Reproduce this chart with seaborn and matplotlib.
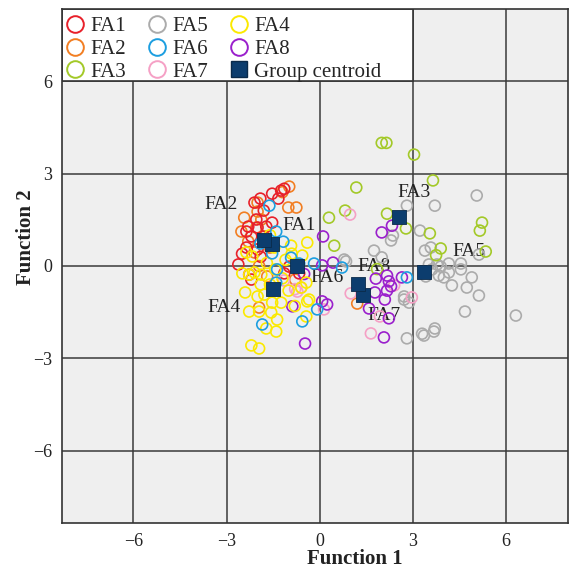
import matplotlib
matplotlib.use("Agg")
import matplotlib.pyplot as plt
import pandas as pd
import seaborn as sns
from matplotlib.lines import Line2D
from matplotlib.patches import Rectangle

# Discriminant scores per facies group (Function 1, Function 2)
fa1_x = [-1.14, -1.24, -1.53, -1.33, -1.91, -2.10, -1.53, -2.30, -1.72, -2.00, -2.20, -2.36,
         -2.62, -2.20, -1.14, -0.66, -0.98, -2.04, -2.36, -2.00, -2.27, -1.80, -1.90, -2.50]
fa1_y = [2.51, 2.45, 2.35, 2.19, 2.19, 2.06, 1.41, 1.28, 1.28, 1.25, 0.96, 0.60,
         0.05, -0.44, -0.24, -0.24, -0.02, 1.51, 1.12, 0.54, -0.28, 1.80, 0.30, 0.40]

fa2_x = [-0.98, -0.75, -1.01, -2.00, -1.88, -2.43, -2.52, -2.04, -1.78, -2.10, -1.95, -1.69,
         -0.79, -1.95, 1.21, -2.00, -2.30, -1.60, -1.20]
fa2_y = [2.58, 1.90, 1.90, 1.77, 1.51, 1.57, 1.12, 1.25, 0.96, 0.44, 0.00, -0.34,
         -0.44, -1.35, -1.22, 2.06, 0.80, 0.60, 2.40]

fa3_x = [2.00, 2.15, 3.04, 3.65, 1.18, 2.17, 2.78, 3.55, 0.82, 0.30, 0.47, 3.90,
         5.23, 5.16, 5.35, 1.85, 3.75]
fa3_y = [4.00, 4.00, 3.62, 2.78, 2.55, 1.70, 1.22, 1.06, 1.80, 1.57, 0.66, 0.57,
         1.41, 1.15, 0.47, -0.10, 0.35]

fa4_x = [-0.40, -0.56, -0.92, -2.36, -2.17, -1.46, -2.49, -2.27, -1.88, -1.43, -0.43, -2.40,
         -1.78, -1.53, -1.24, -2.27, -1.95, -1.56, -1.37, -0.40, -1.40, -1.72, -2.20, -1.95,
         -0.34, -0.43, -0.59, -2.10, -2.00, -1.10, -1.70, -1.00, -1.60, -0.80, -1.90, -1.20,
         -0.90, -1.60]
fa4_y = [0.76, 0.34, 0.66, 0.44, 0.31, 0.60, -0.24, -0.28, -0.28, -0.11, -0.54, -0.86,
         -0.93, -1.19, -1.19, -1.48, -1.48, -1.51, -1.74, -1.15, -2.13, -2.03, -2.58, -2.68,
         -1.09, -1.64, -0.70, -0.21, -0.99, 0.20, 0.10, -0.80, -0.60, -1.30, -0.60, -0.40,
         0.40, 1.00]

fa5_x = [5.06, 3.71, 2.81, 3.23, 2.36, 2.30, 1.75, 3.39, 3.58, 0.85, 2.00, 0.79,
         3.52, 3.78, 4.16, 4.55, 3.62, 3.84, 4.16, 4.55, 4.00, 4.26, 3.42, 4.90,
         4.74, 5.13, 4.68, 6.32, 5.13, 3.71, 3.90, 3.68, 3.36, 2.81, 2.72, 2.88,
         2.72, 3.30]
fa5_y = [2.29, 1.96, 1.96, 1.15, 0.99, 0.83, 0.50, 0.50, 0.60, 0.15, 0.28, 0.21,
         0.05, 0.05, 0.08, 0.08, -0.11, -0.31, -0.21, -0.11, -0.37, -0.63, -0.34, -0.37,
         -0.70, -0.96, -1.48, -1.61, 0.37, -2.03, -0.02, -2.13, -2.26, -2.35, -1.09, -1.19,
         -0.99, -2.20]

fa6_x = [-1.62, -1.40, -1.91, -1.17, -1.53, -1.37, -0.92, -0.66, -0.18, 0.72, -1.40, -0.08,
         -0.56, -1.85, 2.81]
fa6_y = [1.96, 1.12, 0.73, 0.79, 0.41, -0.11, 0.27, 0.08, 0.08, -0.05, -0.54, -1.41,
         -1.80, -1.90, -0.37]

fa7_x = [0.98, 1.00, 2.40, 2.97, 1.94, 1.65, 0.14, -0.72, -0.60, -1.15, -0.79]
fa7_y = [1.67, -0.89, -0.63, -1.02, -1.64, -2.19, -1.41, -0.83, -0.70, -0.47, -0.75]

fa8_x = [2.33, 2.00, 0.11, 0.43, 0.08, 1.81, 2.17, 2.23, 2.65, 1.78, 2.17, 2.10,
         1.59, 2.23, 2.07, -0.47, 0.08, 0.24, 2.30, -0.50, -0.88]
fa8_y = [1.31, 1.09, 0.96, 0.11, 0.02, -0.41, -0.31, -0.50, -0.37, -0.86, -0.80, -1.09,
         -1.38, -1.70, -2.32, -2.52, -1.15, -1.25, -0.66, -0.26, -1.31]

# Group centroids
centroid_names = ["FA1", "FA2", "FA3", "FA4", "FA5", "FA6", "FA7", "FA8"]
centroid_x = [-1.53, -1.78, 2.56, -1.50, 3.36, -0.74, 1.40, 1.24]
centroid_y = [0.70, 0.83, 1.60, -0.76, -0.20, 0.00, -0.93, -0.60]

groups = {
    "FA5": (fa5_x, fa5_y), "FA3": (fa3_x, fa3_y), "FA2": (fa2_x, fa2_y),
    "FA1": (fa1_x, fa1_y), "FA7": (fa7_x, fa7_y), "FA8": (fa8_x, fa8_y),
    "FA4": (fa4_x, fa4_y), "FA6": (fa6_x, fa6_y),
}
palette = {
    "FA1": "#e8202a", "FA2": "#f27e22", "FA3": "#a3c928", "FA4": "#fbe900",
    "FA5": "#ababab", "FA6": "#1c9ee0", "FA7": "#f5a0c5", "FA8": "#9a1fcc",
}
centroid_color = "#0c3d6e"

# label placement relative to each centroid (data units)
label_offsets = {
    "FA1": (0.87, 0.61), "FA2": (-1.38, 1.17), "FA3": (0.48, 0.79), "FA4": (-1.57, -0.59),
    "FA5": (1.45, 0.67), "FA6": (0.99, -0.37), "FA7": (0.67, -0.68), "FA8": (0.51, 0.58),
}

frames = [pd.DataFrame({"f1": xs, "f2": ys, "group": g}) for g, (xs, ys) in groups.items()]
df = pd.concat(frames, ignore_index=True)

sns.set_theme(style="white")
plt.rcParams["font.family"] = ["Liberation Serif", "DejaVu Serif"]
plt.rcParams["axes.unicode_minus"] = True

fig = plt.figure(figsize=(5.69, 5.68), dpi=100)
ax = fig.add_axes([62 / 569, 1 - 523 / 568, 506 / 569, 514 / 568])
ax.set_facecolor("#efefef")

xmin, xmax = -8.3, 8.0
ymin, ymax = -8.35, 8.35

sns.scatterplot(data=df, x="f1", y="f2", hue="group", palette=palette, s=62,
                marker="o", linewidth=1.2, legend=False, ax=ax, zorder=3)
pts = ax.collections[-1]
pts.set_edgecolors(pts.get_facecolors())
pts.set_facecolors("none")

sns.scatterplot(x=centroid_x, y=centroid_y, marker="s", s=110, color=centroid_color,
                edgecolor="#0a2a4a", linewidth=0.6, legend=False, ax=ax, zorder=4)

for name, cx, cy in zip(centroid_names, centroid_x, centroid_y):
    dx, dy = label_offsets[name]
    ax.text(cx + dx, cy + dy, name, fontsize=14, ha="center", va="center",
            color="#222222", zorder=2.5)

ax.set_xlim(xmin, xmax)
ax.set_ylim(ymin, ymax)
ax.set_xticks([-6, -3, 0, 3, 6])
ax.set_yticks([-6, -3, 0, 3, 6])
ax.set_axisbelow(True)
ax.grid(True, color="#3a3a3a", linewidth=1.1)
ax.tick_params(length=0, labelsize=13, pad=7, colors="#222222")
for sp in ax.spines.values():
    sp.set_color("#333333")
    sp.set_linewidth(1.2)

ax.set_xlabel("Function 1", fontsize=15, fontweight="bold", color="#222222")
ax.set_ylabel("Function 2", fontsize=15, fontweight="bold", color="#222222")
ax.xaxis.set_label_coords(0.579, -0.05)
ax.yaxis.set_label_coords(-0.052, 0.556)

# white legend panel in the upper-left corner
ax.add_patch(Rectangle((xmin, 6), 3 - xmin, ymax - 6, facecolor="white",
                       edgecolor="#333333", linewidth=1.2, zorder=2.2))

order = ["FA1", "FA2", "FA3", "FA5", "FA6", "FA7", "FA4", "FA8"]
handles = [Line2D([], [], linestyle="none", marker="o", markersize=12, markerfacecolor="none",
                  markeredgecolor=palette[g], markeredgewidth=1.4, label=g) for g in order]
handles.append(Line2D([], [], linestyle="none", marker="s", markersize=11,
                      markerfacecolor=centroid_color, markeredgecolor="#0a2a4a",
                      label="Group centroid"))
leg = ax.legend(handles=handles, ncol=3, loc="upper left", bbox_to_anchor=(0.001, 0.993),
                frameon=False, fontsize=15, handlelength=0.8, handletextpad=0.32,
                columnspacing=1.1, labelspacing=0.15, borderaxespad=0.0, borderpad=0.2)
leg.set_zorder(5)

fig.savefig("out.png", dpi=100, facecolor="white")
